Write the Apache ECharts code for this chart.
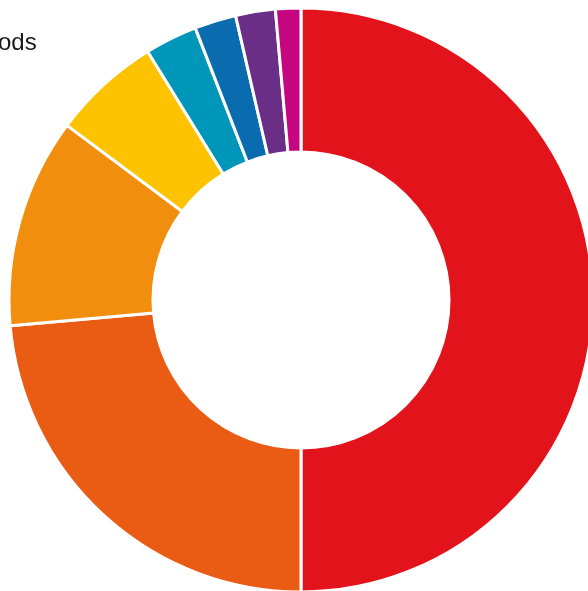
<!DOCTYPE html>
<html><head><meta charset="utf-8">
<script src="https://cdn.jsdelivr.net/npm/echarts@6/dist/echarts.min.js"></script>
<style>html,body{margin:0;padding:0;background:#fff}#c{width:588px;height:591px}</style>
</head><body><div id="c"></div>
<script>
const categories = ['Segment 1','Segment 2','Segment 3','Segment 4','Segment 5','Segment 6','Segment 7','Segment 8'];
const values = [50, 23.6, 11.6, 6.0, 2.9, 2.3, 2.2, 1.4];
const colors = ['#E3131B','#EA5B13','#F18E0E','#FDC300','#0096B9','#0A6BAE','#6A2E87','#C60680'];
const titleText = 'ods';
const chart = echarts.init(document.getElementById('c'));
chart.setOption({
  animation: false,
  title: { text: titleText, left: -2, top: 31, padding: 0, textStyle: { fontFamily: 'Liberation Sans, Arial, sans-serif', fontSize: 24, fontWeight: 'normal', color: '#1a1a1a' } },
  series: [{
    type: 'pie',
    center: [301, 300],
    radius: [148, 292],
    startAngle: 90,
    clockwise: true,
    label: { show: false },
    labelLine: { show: false },
    itemStyle: { borderColor: '#fff', borderWidth: 3 },
    data: categories.map((c, i) => ({ name: c, value: values[i], itemStyle: { color: colors[i] } }))
  }]
});
</script></body></html>
